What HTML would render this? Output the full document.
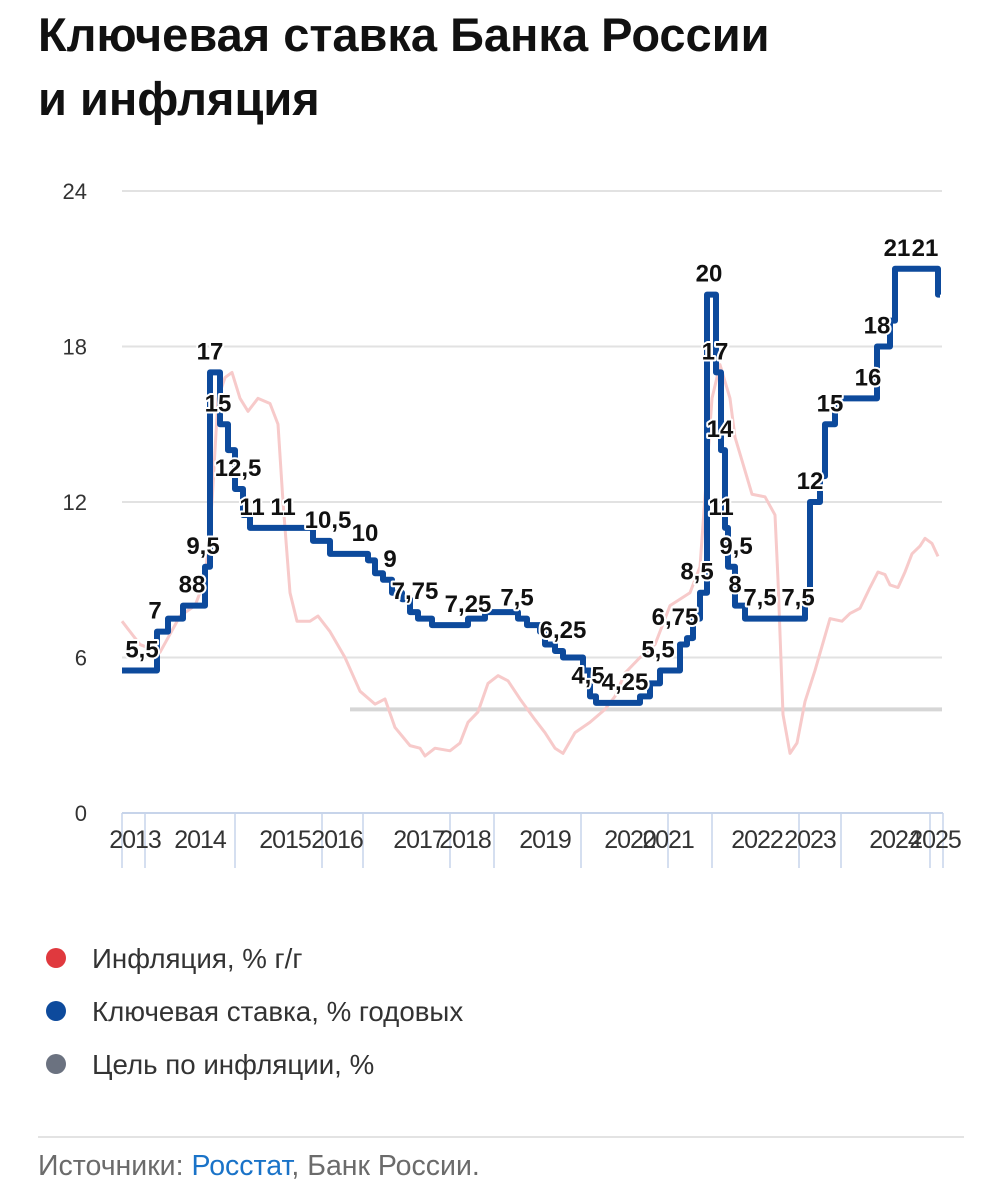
<!DOCTYPE html>
<html><head><meta charset="utf-8">
<style>
body{margin:0;background:#fff;width:1002px;height:1200px;overflow:hidden;font-family:"Liberation Sans","Noto Sans CJK SC",sans-serif;}
h1{position:absolute;left:38px;top:3px;margin:0;font-size:47px;line-height:64px;font-weight:700;color:#111;letter-spacing:0px}
.leg{position:absolute;left:46px;font-size:27.7px;color:#333}
.leg span{display:inline-block;width:20px;height:20px;border-radius:50%;margin-right:26px;vertical-align:0px}
#src{position:absolute;left:38px;top:1150px;font-size:28.5px;color:#6b6b6b}
#src a{color:#1a73c8;text-decoration:none}
</style></head><body>
<h1>Ключевая ставка Банка России<br>и инфляция</h1>
<svg id="c" width="1002" height="900" style="position:absolute;left:0;top:0"></svg>
<div class="leg" style="top:943px"><span style="background:#e0393e"></span>Инфляция, % г/г</div>
<div class="leg" style="top:996px"><span style="background:#0d4a9c"></span>Ключевая ставка, % годовых</div>
<div class="leg" style="top:1049px"><span style="background:#6b7280"></span>Цель по инфляции, %</div>
<div style="position:absolute;left:38px;top:1136px;width:926px;height:2px;background:#e3e3e3"></div>
<div id="src">Источники: <a>Росстат</a>, Банк России.</div>
<script>
const yTicks=[0,6,12,18,24];
const yearLabels=["2013","2014","2015","2016","2017","2018","2019","2020","2021","2022","2023","2024","2025"];
const yearLabelPos=[13,78,163,215,297,343,423,508,546,635,688,773,813];
const yearTicks=[0,23,113,200,241,328,372,459,546,590,677,719,808,821];
const rateStarts=[0,35,46,61,83,88,98,106,113,121,128,191,208,246,253,261,270,280,288,296,310,346,363,396,405,418,423,433,441,461,468,474,518,528,538,558,565,571,578,585,594,599,603,606,613,623,683,688,698,703,713,755,768,773,816,818];
const rateValues=[5.5,7,7.5,8,9.5,17,15,14,12.5,11.5,11,10.5,10,9.75,9.25,9,8.5,8.25,7.75,7.5,7.25,7.5,7.75,7.5,7.25,7,6.5,6.25,6,5.5,4.5,4.25,4.5,5,5.5,6.5,6.75,7.5,8.5,20,17,14,11,9.5,8,7.5,8.5,12,13,15,16,18,19,21,20,20];
const inflPos=[0,18,38,58,73,83,90,96,103,110,118,126,136,148,156,161,168,175,188,196,208,223,238,253,263,273,288,298,303,313,328,338,346,356,366,376,386,398,413,423,433,441,453,468,483,493,503,518,533,548,568,578,590,598,608,613,620,630,643,653,656,661,668,675,683,693,708,720,728,738,748,756,763,768,776,783,790,798,803,810,816];
const inflValues=[7.4,6.5,6.2,7.6,8,9,12,16,16.8,17,16,15.5,16,15.8,15,12,8.5,7.4,7.4,7.6,7,6,4.7,4.2,4.4,3.3,2.6,2.5,2.2,2.5,2.4,2.7,3.5,3.9,5,5.3,5.1,4.4,3.6,3.1,2.5,2.3,3.1,3.5,4,4.5,5.4,6,6.5,8,8.5,9.5,16,17.3,16,14.5,13.6,12.3,12.2,11.5,9,3.8,2.3,2.7,4.3,5.5,7.5,7.4,7.7,7.9,8.7,9.3,9.2,8.8,8.7,9.3,10,10.3,10.6,10.4,9.9];
const targetValue=4, targetStart=228;
const labelText=["5,5","7","88","9,5","17","15","12,5","11","11","10,5","10","9","7,75","7,25","7,5","6,25","4,5","4,25","5,5","6,75","8,5","20","17","14","11","9,5","8","7,5","7,5","12","15","16","18","21","21"];
const labelPos=[20,33,70,81,88,96,116,130,161,206,243,268,293,346,395,441,466,503,536,553,575,587,593,598,599,614,613,638,676,688,708,746,755,775,803];
const labelVal=[5.5,7,8,9.5,17,15,12.5,11,11,10.5,10,9,7.75,7.25,7.5,6.25,4.5,4.25,5.5,6.75,8.5,20,17,14,11,9.5,8,7.5,7.5,12,15,16,18,21,21];
const NS="http://www.w3.org/2000/svg",svg=document.getElementById('c');
const X=t=>122+t*(820/820), Y=v=>813-v*(622/24);
function mk(tag,attrs){const e=document.createElementNS(NS,tag);for(const k in attrs)e.setAttribute(k,attrs[k]);svg.appendChild(e);return e;}
yTicks.forEach(v=>{
 if(v>0){const g=mk('line',{x1:122,x2:942,y1:Y(v),y2:Y(v),stroke:'#e2e2e2','stroke-width':2});
 
 }
 const t=mk('text',{x:87,y:Y(v)+8,'text-anchor':'end','font-size':22,fill:'#333'});t.textContent=v;
 
 
});
const ax=mk('line',{x1:122,x2:943,y1:813,y2:813,stroke:'#c7d4ea','stroke-width':2});


yearTicks.forEach(t=>{const l=mk('line',{x1:X(t),x2:X(t),y1:813,y2:868,stroke:'#c7d4ea','stroke-width':1.5});
 
 });
yearLabels.forEach((s,i)=>{
 const t=mk('text',{x:X(yearLabelPos[i]),y:848,'text-anchor':'middle','font-size':25,fill:'#333','letter-spacing':-1});t.textContent=s;
 
 });
const tl=mk('line',{x1:X(targetStart),x2:942,y1:Y(targetValue),y2:Y(targetValue),stroke:'#d6d6d6','stroke-width':4});


const ip=mk('path',{d:inflPos.map((t,i)=>(i?'L':'M')+X(t)+' '+Y(inflValues[i])).join(''),fill:'none',stroke:'#f7caca','stroke-width':3,'stroke-linejoin':'round'});


let d='M'+X(rateStarts[0])+' '+Y(rateValues[0]);
for(let i=1;i<rateStarts.length;i++){d+='H'+X(rateStarts[i])+'V'+Y(rateValues[i]);}
const rp=mk('path',{d:d,fill:'none',stroke:'#0d4a9c','stroke-width':6,'stroke-linejoin':'round'});


labelText.forEach((s,i)=>{const t=mk('text',{x:X(labelPos[i]),y:Y(labelVal[i])-13,'text-anchor':'middle','font-size':24,'font-weight':700,fill:'#111',stroke:'#fff','stroke-width':4,'paint-order':'stroke','stroke-linejoin':'round'});t.textContent=s;
 
 });
</script>
</body></html>
